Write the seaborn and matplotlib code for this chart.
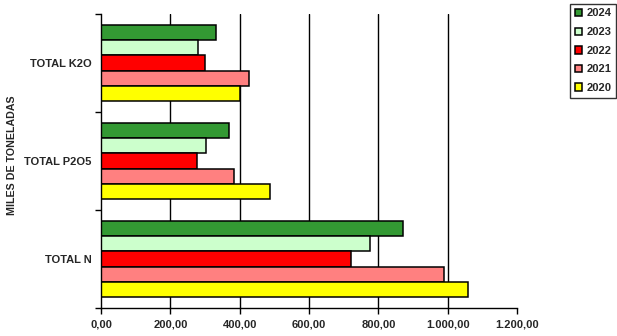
import matplotlib
matplotlib.use("Agg")
import matplotlib.pyplot as plt
import seaborn as sns
import pandas as pd
from matplotlib.ticker import FuncFormatter, FixedLocator

categories = ["TOTAL K2O", "TOTAL P2O5", "TOTAL N"]
years = ["2024", "2023", "2022", "2021", "2020"]
v2024 = [331, 370, 872]
v2023 = [281, 304, 777]
v2022 = [301, 278, 722]
v2021 = [428, 385, 988]
v2020 = [401, 488, 1060]
colors = ["#339933", "#CCFFCC", "#FF0000", "#FF8080", "#FFFF00"]

series = dict(zip(years, [v2024, v2023, v2022, v2021, v2020]))
rows = []
for y, vals in series.items():
    for c, v in zip(categories, vals):
        rows.append({"cat": c, "year": y, "val": v})
df = pd.DataFrame(rows)

sns.set_theme(style="white")
plt.rcParams["font.family"] = ["Liberation Sans", "DejaVu Sans"]
plt.rcParams["font.weight"] = "bold"

fig = plt.figure(figsize=(6.17, 3.36), dpi=100)
ax = fig.add_axes([101/617, 1 - 308/336, 416/617, 294/336])

sns.barplot(data=df, x="val", y="cat", hue="year", order=categories,
            hue_order=years, palette=colors, orient="h", width=0.77,
            edgecolor="black", linewidth=1.1, ax=ax, legend=True, saturation=1)

ax.set_xlim(0, 1200)
ax.set_ylim(2.5, -0.5)
ax.set_xticks([0, 200, 400, 600, 800, 1000, 1200])

def fmt(v, pos):
    s = f"{v:,.2f}"
    return s.replace(",", "X").replace(".", ",").replace("X", ".")
ax.xaxis.set_major_formatter(FuncFormatter(fmt))

for xv in [200, 400, 600, 800, 1000]:
    ax.axvline(xv, color="black", lw=1.0, zorder=0)

ax.yaxis.set_minor_locator(FixedLocator([-0.5, 0.5, 1.5, 2.5]))
ax.tick_params(axis="y", which="major", length=0, pad=7, labelsize=8)
ax.tick_params(axis="y", which="minor", length=4, width=1, color="black", direction="out", left=True)
ax.tick_params(axis="x", which="major", length=4, width=1, color="black", direction="out", bottom=True, labelsize=8, pad=4)
for lab in ax.get_xticklabels() + ax.get_yticklabels():
    lab.set_fontweight("bold")

for s in ["top", "right"]:
    ax.spines[s].set_visible(False)
for s in ["left", "bottom"]:
    ax.spines[s].set_color("black")
    ax.spines[s].set_linewidth(1.0)

ax.set_xlabel("")
ax.set_ylabel("")
fig.text(12/617, 1 - 155/336, "MILES DE TONELADAS", rotation=90, va="center", ha="center",
         fontsize=7.7, fontweight="bold")

handles, labels = ax.get_legend_handles_labels()
ax.get_legend().remove()
leg = fig.legend(handles, labels, loc="upper right", bbox_to_anchor=(616/617, 1 - 4/336),
                 frameon=True, fancybox=False, edgecolor="black", fontsize=8,
                 handlelength=0.65, handleheight=0.65, handletextpad=0.4,
                 labelspacing=0.78, borderpad=0.4, borderaxespad=0)
leg.get_frame().set_linewidth(1.0)
for t in leg.get_texts():
    t.set_fontweight("bold")

fig.savefig("out.png", dpi=100)
